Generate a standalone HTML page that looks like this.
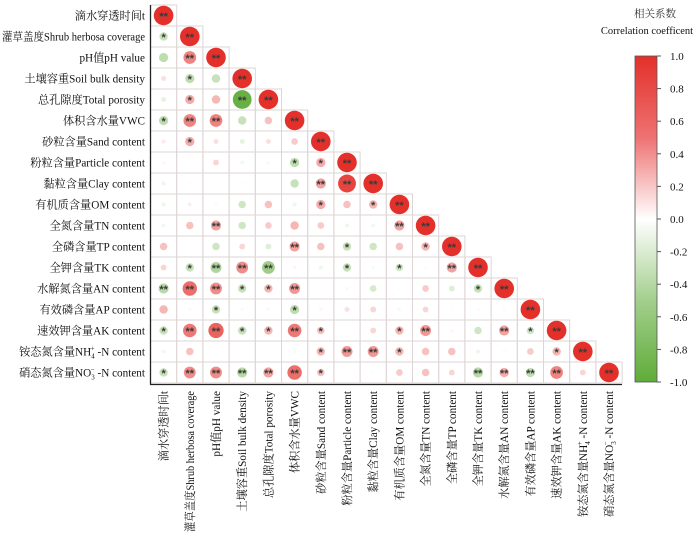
<!DOCTYPE html>
<html><head><meta charset="utf-8">
<style>
html,body{margin:0;padding:0;background:#fff;}
svg{display:block;font-family:"Liberation Serif","Noto Serif CJK SC","Noto Sans CJK SC",serif;}
</style></head>
<body>
<svg id="chart" width="700" height="534" viewBox="0 0 700 534">
<g id="grid"></g>
<g id="marks"></g>
<g id="rowlabels"></g>
<g id="collabels"></g>
<line x1="150.5" y1="5" x2="150.5" y2="384.5" stroke="#222" stroke-width="1.3"/>
<line x1="150" y1="384.5" x2="622" y2="384.5" stroke="#222" stroke-width="1.3"/>
<text x="655" y="17" font-size="10.5" text-anchor="middle" fill="#333">相关系数</text>
<text x="647" y="34" font-size="10.5" text-anchor="middle" fill="#111">Correlation coefficent</text>
<defs><linearGradient id="cb" x1="0" y1="0" x2="0" y2="1">
<stop offset="0" stop-color="#e3302a"/><stop offset="0.25" stop-color="#ee7272"/><stop offset="0.5" stop-color="#ffffff"/><stop offset="0.75" stop-color="#a3cf8d"/><stop offset="1" stop-color="#5fac39"/></linearGradient></defs>
<rect x="635" y="56" width="22" height="326" fill="url(#cb)" stroke="#555" stroke-width="0.8"/>
<g id="cbticks"></g>
</svg>
<script>
const labels = ["滴水穿透时间t","灌草盖度Shrub herbosa coverage","pH值pH value","土壤容重Soil bulk density","总孔隙度Total porosity","体积含水量VWC","砂粒含量Sand content","粉粒含量Particle content","黏粒含量Clay content","有机质含量OM content","全氮含量TN content","全磷含量TP content","全钾含量TK content","水解氮含量AN content","有效磷含量AP content","速效钾含量AK content","铵态氮含量NH4+ -N content","硝态氮含量NO3- -N content"];
const corr = [
[1],
[-0.35,1],
[-0.4,0.6,1],
[0.15,-0.4,-0.35,1],
[-0.15,0.4,0.35,-0.95,1],
[-0.4,0.6,0.6,-0.35,0.3,1],
[0.1,0.4,0.15,-0.15,0.15,0.25,1],
[0.05,0,0.2,-0.08,0.05,-0.4,0.4,1],
[-0.1,0.02,0,-0.02,0,-0.35,0.45,0.9,1],
[-0.1,0.08,0.03,-0.3,0.3,-0.1,0.4,0.3,0.35,1],
[-0.08,0.3,0.45,-0.3,0.25,0.35,0.25,-0.1,-0.08,0.45,1],
[0.3,0,-0.3,0.2,-0.2,0.45,0.3,-0.35,-0.3,0.3,0.35,1],
[0.2,-0.35,-0.5,0.55,-0.6,0.05,-0.1,-0.35,-0.05,-0.3,0.02,0.45,1],
[-0.45,0.7,0.55,-0.35,0.35,0.5,0,-0.05,-0.25,0.02,0.25,-0.2,-0.35,1],
[0.35,-0.05,-0.35,-0.05,0.05,-0.4,0.05,0.15,0.2,0.05,0.2,0.02,0.03,0.03,1],
[-0.35,0.65,0.75,-0.35,0.35,0.65,0.3,0,0.2,0.35,0.5,0.05,-0.3,0.45,-0.3,1],
[-0.08,0.3,0,0,0,-0.05,0.35,0.5,0.5,0.35,0.3,0.3,-0.1,0.03,0.25,0.35,1],
[-0.35,0.55,0.55,-0.45,0.45,0.7,0.3,0,-0.03,0.25,0.3,0.2,-0.45,0.4,-0.4,0.6,0.2,1]
];
const sig = [
["**"],
["*","**"],
["","**","**"],
["","*","","**"],
["","*","","**","**"],
["*","**","**","","","**"],
["","*","","","","","**"],
["","","","","","*","*","**"],
["","","","","","","**","**","**"],
["","","","","","","*","","*","**"],
["","","**","","","","","","","**","**"],
["","","","","","**","","*","","","*","**"],
["","*","**","**","**","","","*","","*","","**","**"],
["**","**","**","*","*","**","","","","","","","*","**"],
["","","*","","","*","","","","","","","","","**"],
["*","**","**","*","*","**","*","","","*","**","","","**","*","**"],
["","","","","","","*","**","**","*","","","","","","*","**"],
["*","**","**","**","**","**","*","","","","","","**","**","**","**","","**"]
];
const cbTicks = [1.0,0.8,0.6,0.4,0.2,0.0,-0.2,-0.4,-0.6,-0.8,-1.0];

const NS="http://www.w3.org/2000/svg";
const x0=150.5, y0=5, cw=26.2, ch=21;
const FS=11.2;
function xc(j){return x0+(j+0.5)*cw;}
function yc(i){return y0+(i+0.5)*ch;}
function mix(a,b,t){return a.map((v,k)=>Math.round(v+(b[k]-v)*t));}
function color(r){
  const red=[227,48,42], green=[95,172,57], w=[255,255,255];
  const c = r>=0 ? mix(w,red,Math.min(1,r)) : mix(w,green,Math.min(1,-r));
  return "rgb("+c.join(",")+")";
}
function el(t,a){const e=document.createElementNS(NS,t);for(const k in a)e.setAttribute(k,a[k]);return e;}
const grid=document.getElementById('grid'), marks=document.getElementById('marks');
for(let i=0;i<corr.length;i++){
  for(let j=0;j<=i;j++){
    const cell=el('rect',{x:x0+j*cw,y:y0+i*ch,width:cw,height:ch,fill:'none',stroke:'#ddd5d5','stroke-width':1});
    
    
    grid.appendChild(cell);
    const r=corr[i][j];
    if(Math.abs(r)>0.005){
      const rad=1.2+8.6*Math.abs(r);
      const c=el('circle',{cx:xc(j),cy:yc(i),r:rad,fill:color(r)});
      
      
      marks.appendChild(c);
    }
    const s=sig[i][j];
    if(s){
      const t=el('text',{x:xc(j),y:yc(i)+4.5,'font-size':11,'text-anchor':'middle',fill:'#3a3a3a','font-family':'Liberation Sans, sans-serif','font-weight':'bold'});
      t.textContent=s;
      
      
      marks.appendChild(t);
    }
  }
}
function setLabel(t,lab){
  const m=lab.match(/^(.*?)(NH4\+|NO3-)(.*)$/);
  if(!m){t.textContent=lab;return;}
  t.appendChild(document.createTextNode(m[1]+m[2].slice(0,2)));
  const sub=el('tspan',{'font-size':7,dy:3});sub.textContent=m[2][2];t.appendChild(sub);
  const sup=el('tspan',{'font-size':7,dy:-8,dx:-4});sup.textContent=m[2][3]==='+'?'+':'−';t.appendChild(sup);
  const rest=el('tspan',{dy:5});rest.textContent=' '+m[3].trim();t.appendChild(rest);
}
function fit(t,max){
  try{const L=t.getComputedTextLength();if(L>max){t.setAttribute('textLength',max);t.setAttribute('lengthAdjust','spacingAndGlyphs');}}catch(e){}
}
const rl=document.getElementById('rowlabels'), cl=document.getElementById('collabels');
labels.forEach((lab,i)=>{
  const t=el('text',{x:145,y:yc(i)+4,'font-size':FS,'text-anchor':'end',fill:'#111'});
  setLabel(t,lab);
  
  
  rl.appendChild(t);
  fit(t,143);
  const c=el('text',{x:0,y:0,'font-size':FS,'text-anchor':'end',fill:'#111',transform:'translate('+(xc(i)+4)+',391) rotate(-90)'});
  setLabel(c,lab);
  
  
  cl.appendChild(c);
  fit(c,141);
});
const cb=document.getElementById('cbticks');
cbTicks.forEach(v=>{
  const y=56+(1-v)/2*326;
  const l=el('line',{x1:657,x2:661,y1:y,y2:y,stroke:'#555'});
  
  
  cb.appendChild(l);
  const t=el('text',{x:670,y:y+4,'font-size':11,fill:'#111'});
  t.textContent=v.toFixed(1);
  
  
  cb.appendChild(t);
});
</script>
</body></html>
